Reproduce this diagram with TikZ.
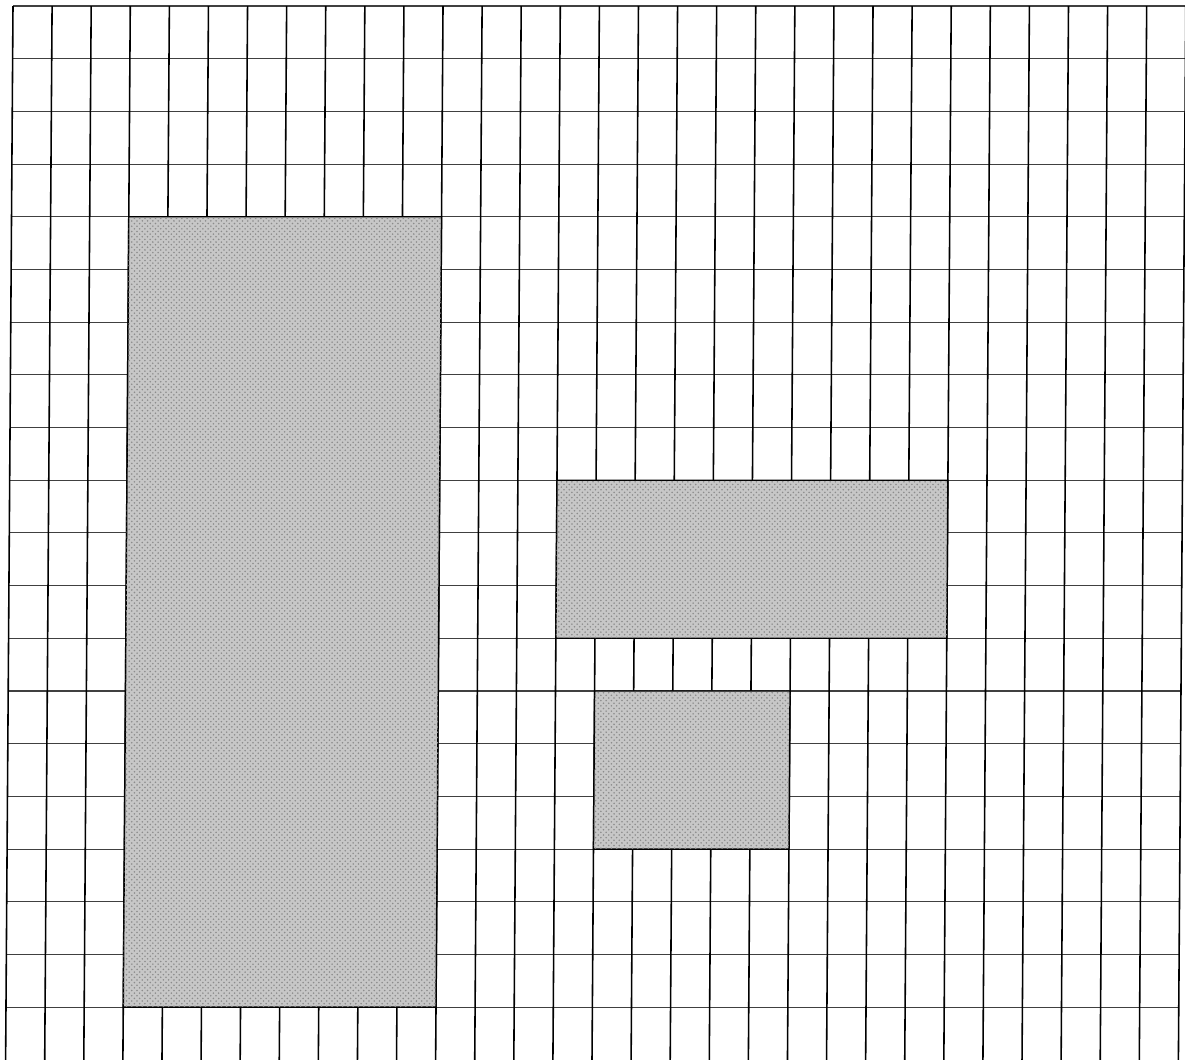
\documentclass[tikz,border=0pt]{standalone}
\usepackage{tikz}
\usetikzlibrary{patterns}

\begin{document}
\begin{tikzpicture}[
    x=0.02cm, y=-0.02cm,
    vline/.style={line width=0.9pt, black},
    hline/.style={line width=0.6pt, black!75},
    block/.style={draw=black, line width=0.8pt, fill=black!22,
        postaction={pattern=crosshatch dots, pattern color=black!45}},
]
% page frame, same size as the scan
\useasboundingbox (0,0) rectangle (1185,1059);
\clip (0,0) rectangle (1185,1059);

% sheet grid, one unit = one cell
\begin{scope}[shift={(13,6)}, xslant=0.007, x=0.782cm, y=-1.054cm]
    \foreach \r in {0,...,19}
        \draw[hline] (0,\r) -- (30,\r);
    \foreach \c in {0,...,30}
        \draw[vline] (\c,0) -- (\c,20);

    % shaded areas
    \draw[block] (3,4)   rectangle (11,19);  % tall area
    \draw[block] (14,9)  rectangle (24,12);  % wide area
    \draw[block] (15,13) rectangle (20,16);  % small area
\end{scope}

\end{tikzpicture}
\end{document}
